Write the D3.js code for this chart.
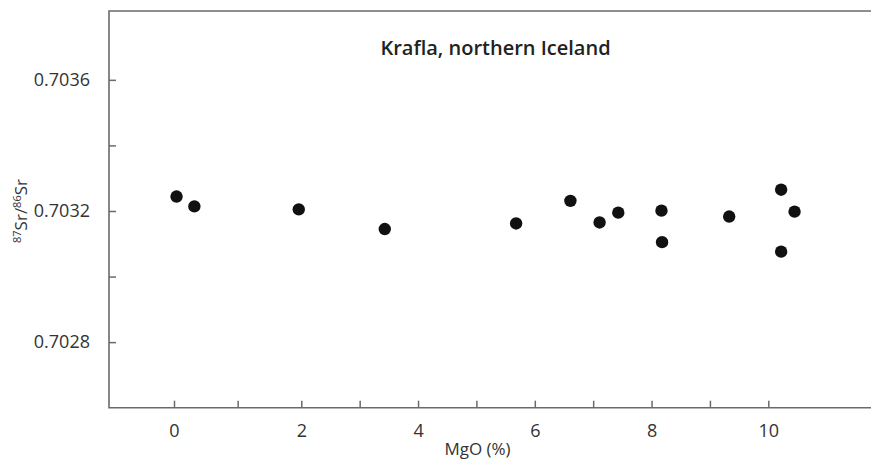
<!DOCTYPE html>
<html>
<head>
<meta charset="utf-8">
<script src="https://cdn.jsdelivr.net/npm/d3@7"></script>
<style>
  html, body { margin: 0; padding: 0; background: #fff; }
  svg { display: block; }
  text { font-family: "Open Sans", "Noto Sans", sans-serif; fill: #333; }
</style>
</head>
<body>
<svg id="chart" width="871" height="463"></svg>
<script>
// Krafla lavas: 87Sr/86Sr ratio against MgO content
const mgo = [0.04, 0.32, 1.96, 3.43, 5.68, 6.61, 7.11, 7.43, 8.17, 8.18, 9.33, 10.22, 10.45, 10.22];
const srRatio = [0.703244, 0.703214, 0.703205, 0.703145, 0.703162, 0.703231, 0.703165,
                 0.703195, 0.703201, 0.703105, 0.703183, 0.703265, 0.703198, 0.703076];
const xTickValues = [0, 1, 2, 3, 4, 5, 6, 7, 8, 9, 10];
const xTickLabels = ["0", "", "2", "", "4", "", "6", "", "8", "", "10"];
const yTickValues = [0.7028, 0.7030, 0.7032, 0.7034, 0.7036];
const yTickLabels = ["0.7028", "", "0.7032", "", "0.7036"];
const title = "Krafla, northern Iceland";

const svg = d3.select("#chart");
const plotLeft = 109, plotTop = 11, plotBottom = 407.7, plotRight = 871;
const axisColor = "#6a6a6a";

// The printed MgO axis is slightly stretched below 2 %, so the scale is piecewise linear
const x = d3.scaleLinear()
  .domain([-1.02, 0, 2, 10, 11.76])
  .range([plotLeft, 174, 301.3, 768.3, plotRight]);
const y = d3.scaleLinear()
  .domain([0.70260, 0.70381])
  .range([plotBottom, plotTop]);

// Frame: left axis, bottom axis and top rule
const frame = svg.append("g").attr("stroke", axisColor).attr("stroke-width", 1.6).attr("fill", "none");
frame.append("path").attr("d", `M${plotRight},${plotTop}H${plotLeft}V${plotBottom}H${plotRight}`);

// X axis with inward ticks
const xAxis = svg.append("g")
  .attr("transform", `translate(0,${plotBottom})`)
  .call(d3.axisBottom(x).tickValues(xTickValues)
    .tickSize(-7).tickPadding(17)
    .tickFormat((d, i) => xTickLabels[i]));
xAxis.select(".domain").remove();
xAxis.selectAll(".tick line").attr("stroke", axisColor).attr("stroke-width", 1.5);
xAxis.selectAll(".tick text").attr("font-size", 18).attr("fill", "#333");

// Y axis with inward ticks
const yAxis = svg.append("g")
  .attr("transform", `translate(${plotLeft},0)`)
  .call(d3.axisLeft(y).tickValues(yTickValues)
    .tickSize(-7).tickPadding(19)
    .tickFormat((d, i) => yTickLabels[i]));
yAxis.select(".domain").remove();
yAxis.selectAll(".tick line").attr("stroke", axisColor).attr("stroke-width", 1.5);
yAxis.selectAll(".tick text").attr("font-size", 18).attr("fill", "#333");

// Data points
svg.append("g").selectAll("circle")
  .data(mgo.map((m, i) => [m, srRatio[i]]))
  .join("circle")
  .attr("cx", d => x(d[0]))
  .attr("cy", d => y(d[1]))
  .attr("r", 6.2)
  .attr("fill", "#111");

// Title
svg.append("text")
  .attr("x", 495.5).attr("y", 55)
  .attr("text-anchor", "middle")
  .attr("font-size", 20).attr("font-weight", 600)
  .style("fill", "#222")
  .text(title);

// X axis title
svg.append("text")
  .attr("x", 477.5).attr("y", 455)
  .attr("text-anchor", "middle")
  .attr("font-size", 17)
  .text("MgO (%)");

// Y axis title with superscript mass numbers
const yTitle = svg.append("text")
  .attr("transform", "translate(27,211) rotate(-90)")
  .attr("text-anchor", "middle")
  .attr("font-size", 17);
yTitle.append("tspan").attr("font-size", 11).attr("dy", -6).text("87");
yTitle.append("tspan").attr("dy", 6).text("Sr/");
yTitle.append("tspan").attr("font-size", 11).attr("dy", -6).text("86");
yTitle.append("tspan").attr("dy", 6).text("Sr");
</script>
</body>
</html>
